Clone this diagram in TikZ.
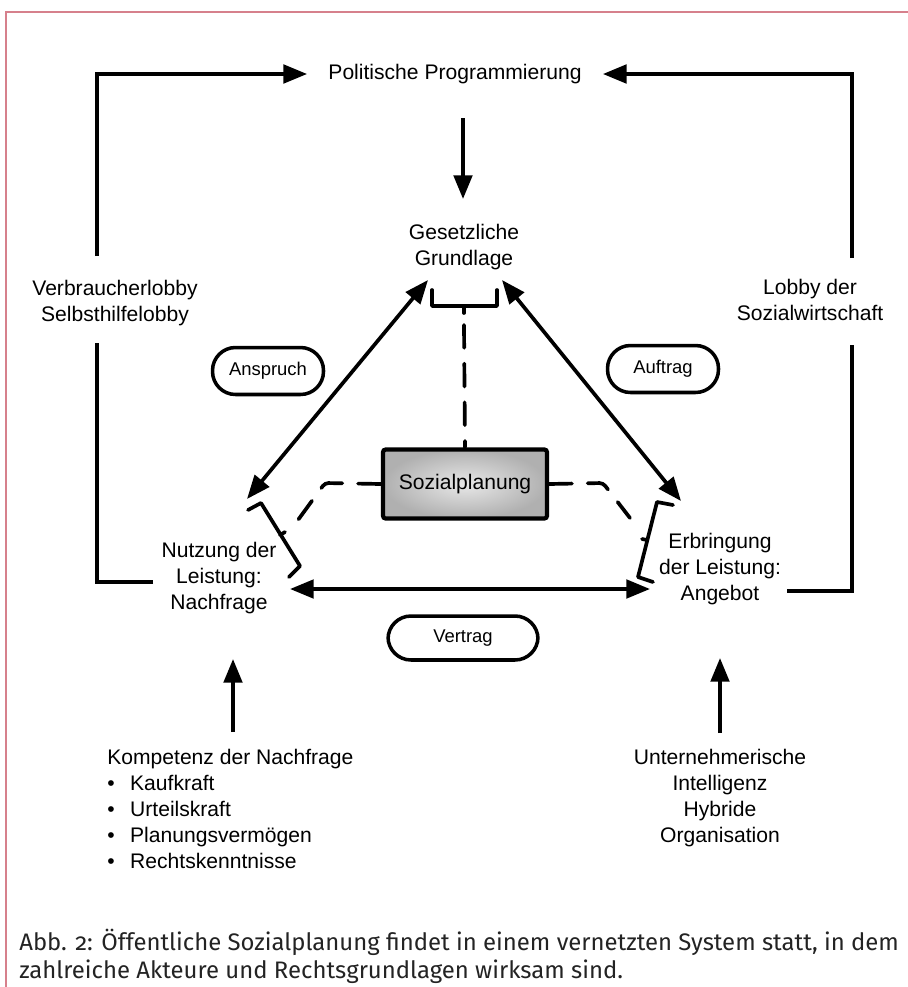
\documentclass[tikz,border=0pt]{standalone}
\usepackage{fontspec}
\setmainfont{Liberation Sans}
\newfontfamily\capfont[Numbers=OldStyle]{Fira Sans}
\usepackage{xcolor}
\usepackage{tikz}
\usetikzlibrary{arrows.meta, shapes}
\definecolor{framepink}{RGB}{214, 128, 140}
\definecolor{captext}{RGB}{35, 35, 35}

\begin{document}
\begin{tikzpicture}[x=0.02cm, y=-0.02cm,
		txt/.style={font=\fontsize{12}{14.8}\selectfont, align=center, inner sep=0pt},
		pill/.style={draw, line width=2pt, rounded corners=0.46cm, minimum width=2.22cm, minimum height=0.94cm, font=\fontsize{10.5}{12}\selectfont},
		plan/.style={draw, line width=2.4pt, rounded corners=1.5pt, shading=radial, inner color=gray!18, outer color=gray!62, minimum width=3.28cm, minimum height=1.38cm, font=\fontsize{12}{14.8}\selectfont},
		arrow/.style={-{Triangle[length=13.5pt, width=10.5pt]}, line width=2.1pt},
		twoway/.style={{Triangle[length=13.5pt, width=10.5pt]}-{Triangle[length=13.5pt, width=10.5pt]}, line width=2.1pt},
		link/.style={line width=2.1pt},
		bracket/.style={line width=2.1pt, line join=round, line cap=round},
		dashlink/.style={line width=2.1pt, dash pattern=on 13pt off 9pt, line cap=round, rounded corners=2pt}
	]
	\useasboundingbox (0,0) rectangle (908,987);

	% Frame
	\draw[framepink, line width=1pt] (6,987) -- (6,12) -- (908,12);

	% Nodes
	\node[txt, inner xsep=0.42cm] (pol) at (455,74) {Politische Programmierung};
	\node[txt] (ges) at (464,247) {Gesetzliche\\Grundlage};
	\node[txt] (verb) at (115,303) {Verbraucherlobby\\Selbsthilfelobby};
	\node[txt] (lobby) at (810,300) {Lobby der\\Sozialwirtschaft};
	\node[plan] (soz) at (465,484) {Sozialplanung};
	\node[txt] (nutz) at (219,578) {Nutzung der\\Leistung:\\Nachfrage};
	\node[txt] (erb) at (720,569) {Erbringung\\der Leistung:\\Angebot};

	\node[pill] (ansp) at (268,371) {Anspruch};
	\node[pill] (auft) at (663,369) {Auftrag};
	\node[pill, minimum width=3cm, minimum height=0.88cm] (vert) at (463,638) {Vertrag};

	\node[txt, align=left, anchor=north west] (komp) at (107,749) {Kompetenz der Nachfrage\\
		\makebox[13pt][l]{\textbullet}Kaufkraft\\
		\makebox[13pt][l]{\textbullet}Urteilskraft\\
		\makebox[13pt][l]{\textbullet}Planungsverm\"ogen\\
		\makebox[13pt][l]{\textbullet}Rechtskenntnisse};
	\node[txt] (unt) at (720,798) {Unternehmerische\\Intelligenz\\Hybride\\Organisation};

	\node[anchor=north west, align=left, inner sep=0pt, font=\capfont\fontsize{13.6}{15.9}\selectfont, text=captext] (cap) at (19,929)
		{Abb. 2: \"Offentliche Sozialplanung findet in einem vernetzten System statt, in dem\\zahlreiche Akteure und Rechtsgrundlagen wirksam sind.};

	% Ends of the connectors
	\coordinate (polS) at (463,118);
	\coordinate (gesN) at (463,199);
	\coordinate (gesL) at (428,280);
	\coordinate (gesR) at (502,280);
	\coordinate (nutzT) at (247,499);
	\coordinate (erbT) at (681,501);
	\coordinate (nutzR) at (290,589);
	\coordinate (erbL) at (650,589);
	\coordinate (kompT) at (233,732);
	\coordinate (nutzB) at (233,659);
	\coordinate (untT) at (720,733);
	\coordinate (erbB) at (720,658);
	\coordinate (loopL) at (153,582);
	\coordinate (verbS) at (97,343);
	\coordinate (verbN) at (97,256);
	\coordinate (loopR) at (787,591);
	\coordinate (lobbyS) at (852,345);
	\coordinate (lobbyN) at (852,258);

	% Arrows
	\draw[arrow] (polS) -- (gesN);
	\draw[twoway] (gesL) -- (nutzT);
	\draw[twoway] (gesR) -- (erbT);
	\draw[twoway] (nutzR) -- (erbL);
	\draw[arrow] (kompT) -- (nutzB);
	\draw[arrow] (untT) -- (erbB);

	% Lobby loops
	\draw[link] (loopL) -| (verbS);
	\draw[arrow] (verbN) |- (pol.west);
	\draw[link] (loopR) -| (lobbyS);
	\draw[arrow] (lobbyN) |- (pol.east);

	% Brackets
	\draw[bracket] (432,290) -- (432,306) -- (497,306) -- (497,290);
	\draw[bracket] (464,306) -- (464,313);
	\draw[bracket] (248,510) -- (261,503) -- (300,566) -- (289,577);
	\draw[bracket] (280,535) -- (285,532);
	\draw[bracket] (673,505) -- (657,502) -- (638,577) -- (653,582);
	\draw[bracket] (647,540) -- (642,539);

	% Planning links
	\draw[dashlink] (464,325) -- (soz.north);
	\draw[dashlink] (soz.west) -- (325,483) -- (298,520);
	\draw[dashlink] (soz.east) -- (603,483) -- (630,518);

\end{tikzpicture}
\end{document}
